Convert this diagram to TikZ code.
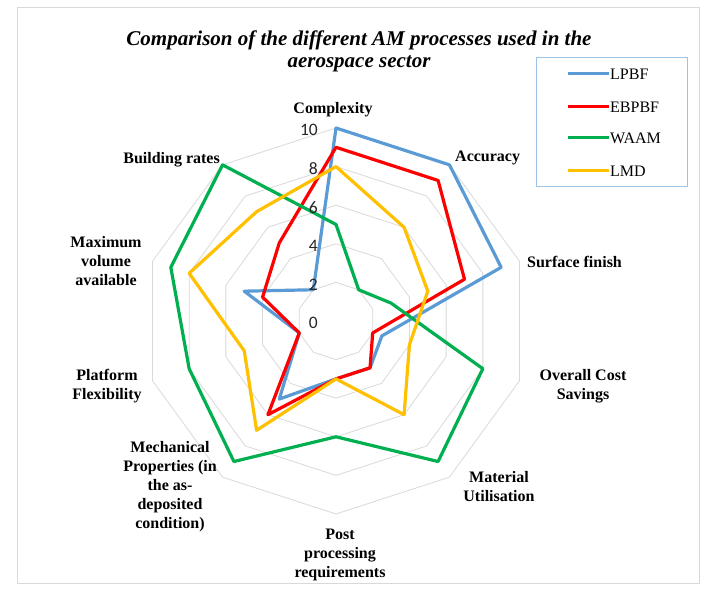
\documentclass[tikz,border=0pt]{standalone}
\usepackage{fontspec}
\setmainfont{Liberation Serif}
\newfontfamily\valfont{Carlito}
\usetikzlibrary{calc}
\definecolor{lpbf}{HTML}{5B9BD5}
\definecolor{ebpbf}{HTML}{FF0000}
\definecolor{waam}{HTML}{00B050}
\definecolor{lmd}{HTML}{FFC000}
\definecolor{gridgray}{HTML}{D9D9D9}
\definecolor{legblue}{HTML}{9DC3E6}
\def\scl{19.3}

\begin{document}
\begin{tikzpicture}[x=1pt,y=1pt,
  ring/.style={draw=gridgray,line width=0.8pt},
  series/.style={line width=3.2pt,line join=round},
  cat/.style={font=\fontsize{16}{19}\selectfont\bfseries,align=center,inner sep=0pt},
  val/.style={font=\valfont\fontsize{17.5}{17.5}\selectfont,text=black!85,anchor=east,inner sep=0pt}]
%ONE UNIT IS ONE PIXEL OF THE 728x600 CHART
\useasboundingbox (0,0) rectangle (728,600);
\draw[gridgray] (17,17) rectangle (699,593);
\coordinate (C) at (336,279);
\foreach \v in {2,4,...,10}
  \draw[ring] ([shift={(C)}]90:\v*\scl) \foreach \i in {1,...,9} {-- ([shift={(C)}]90-36*\i:\v*\scl)} -- cycle;
\foreach \name/\vals in {lpbf/{10,10,9,2.5,3,3,5,2,5,2},ebpbf/{9,9,7,2,3,3,6,2,4,5},
    waam/{5,2,3,8,9,6,9,8,9,10},lmd/{8,6,5,4,6,3,7,5,8,7}} {
  \foreach \r [count=\i from 0] in \vals
    \coordinate (\name-\i) at ([shift={(C)}]90-36*\i:\r*\scl);
  \draw[series,\name] (\name-0) \foreach \i in {1,...,9} {-- (\name-\i)} -- cycle;
}
\foreach \v in {0,2,...,10}
  \node[val] (v\v) at ($(C)+(-18,\v*\scl-2)$) {\v};
\node[cat] (complexity) at (333,490) {Complexity};
\node[cat,anchor=west] (accuracy) at (455,442) {Accuracy};
\node[cat,anchor=west] (surface) at (527,338) {Surface finish};
\node[cat] (cost) at (583,214) {Overall Cost\\Savings};
\node[cat] (material) at (499,113) {Material\\Utilisation};
\node[cat] (post) at (340,45) {Post\\processing\\requirements};
\node[cat] (mech) at (170,113) {Mechanical\\Properties (in\\the as-\\deposited\\condition)};
\node[cat] (platform) at (107,214) {Platform\\Flexibility};
\node[cat] (volume) at (106,339) {Maximum\\volume\\available};
\node[cat,anchor=east] (building) at (220,440) {Building rates};
\node[font=\fontsize{21}{22}\selectfont\bfseries\itshape,align=center] (title) at (359,549)
  {Comparison of the different AM processes used in the\\aerospace sector};
\draw[legblue,line width=1pt] (536,413) rectangle (687,542);
\foreach \name/\lab/\y in {lpbf/LPBF/526,ebpbf/EBPBF/493,waam/WAAM/462,lmd/LMD/429} {
  \node[anchor=west,inner sep=1pt,font=\fontsize{16}{16}\selectfont] (leg-\name) at (609,\y) {\lab};
  \draw[\name,line width=3pt] (leg-\name.west) -- ++(-41,0);
}
\end{tikzpicture}
\end{document}
